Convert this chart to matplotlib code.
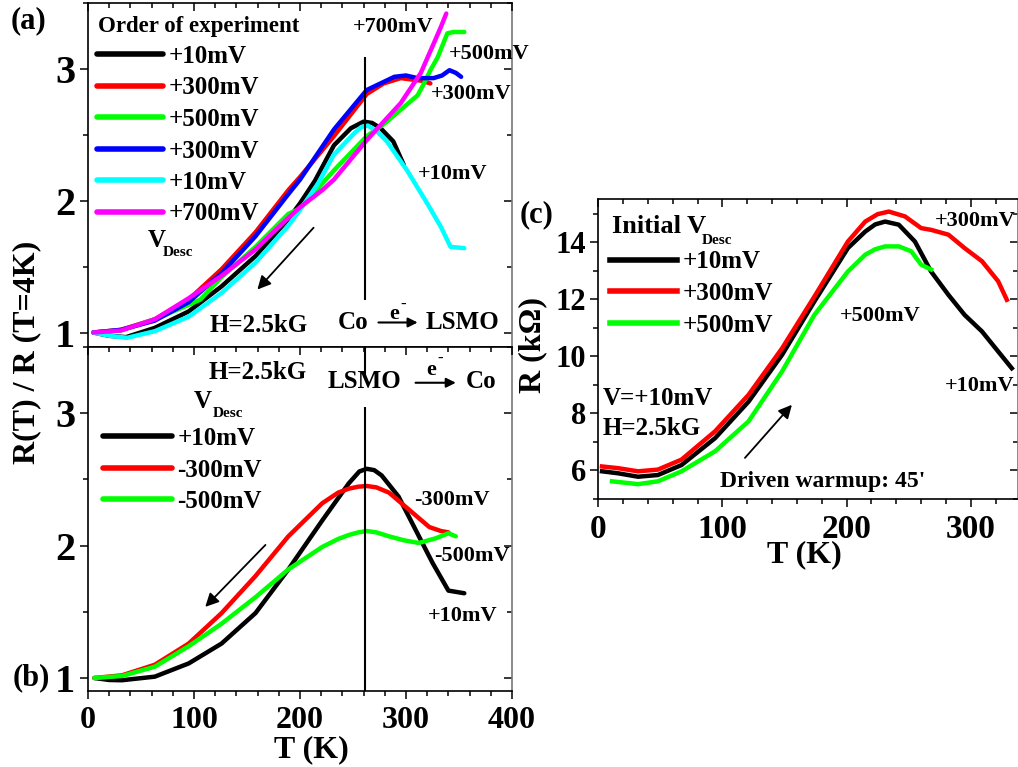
import matplotlib
matplotlib.use("Agg")
import matplotlib.pyplot as plt
from matplotlib.ticker import MultipleLocator, NullFormatter

plt.rcParams['font.family'] = ['Liberation Serif', 'DejaVu Serif']
plt.rcParams['font.weight'] = 'bold'
plt.rcParams['axes.linewidth'] = 1.2

# ---- panel (a): R(T)/R(4K), order of experiment ----
a_labels = ['+10mV', '+300mV', '+500mV', '+300mV', '+10mV', '+700mV']
a_colors = ['black', '#ff0000', '#00ff00', '#0000ff', '#00ffff', '#ff00ff']
a_T = [
    [5, 20, 36, 63, 95, 126, 158, 189, 200, 214, 232, 248, 260, 268, 276, 288, 298],
    [5, 31, 63, 95, 126, 158, 189, 200, 232, 263, 279, 295, 305, 315, 323],
    [5, 31, 63, 95, 106, 126, 158, 189, 200, 232, 263, 279, 295, 311, 317, 323, 330, 339, 345, 355],
    [5, 31, 63, 95, 126, 158, 189, 200, 232, 263, 289, 300, 311, 326, 334, 341, 347, 352],
    [5, 20, 37, 63, 95, 126, 158, 189, 200, 217, 232, 251, 258, 264, 272, 282, 301, 320, 333, 342, 355],
    [5, 31, 63, 95, 126, 158, 189, 200, 221, 232, 263, 295, 314, 326, 333, 338],
]
a_R = [
    [1.0, 0.975, 0.965, 1.035, 1.16, 1.35, 1.58, 1.86, 1.98, 2.15, 2.42, 2.55, 2.60, 2.59, 2.55, 2.45, 2.27],
    [1.0, 1.02, 1.10, 1.25, 1.48, 1.76, 2.08, 2.18, 2.49, 2.81, 2.89, 2.93, 2.92, 2.91, 2.89],
    [1.0, 1.015, 1.10, 1.21, 1.25, 1.42, 1.65, 1.90, 1.94, 2.23, 2.49, 2.58, 2.69, 2.80, 2.89, 2.99, 3.09, 3.27, 3.28, 3.28],
    [1.0, 1.02, 1.09, 1.23, 1.45, 1.73, 2.05, 2.16, 2.54, 2.84, 2.94, 2.95, 2.93, 2.93, 2.95, 2.99, 2.97, 2.94],
    [1.0, 0.975, 0.96, 1.01, 1.12, 1.30, 1.53, 1.81, 1.93, 2.13, 2.35, 2.51, 2.56, 2.57, 2.53, 2.45, 2.23, 1.98, 1.80, 1.65, 1.64],
    [1.0, 1.015, 1.10, 1.26, 1.43, 1.63, 1.87, 1.95, 2.08, 2.16, 2.46, 2.74, 2.97, 3.19, 3.32, 3.42],
]

# ---- panel (b): negative bias ----
b_labels = ['+10mV', '-300mV', '-500mV']
b_colors = ['black', '#ff0000', '#00ff00']
b_T = [
    [6, 20, 32, 63, 95, 126, 158, 189, 221, 246, 256, 263, 270, 277, 293, 309, 325, 340, 355],
    [6, 32, 63, 95, 126, 158, 189, 221, 236, 246, 255, 263, 272, 284, 303, 322, 333, 340],
    [6, 32, 63, 95, 126, 158, 189, 221, 236, 246, 255, 263, 272, 284, 298, 312, 328, 340, 347],
]
b_R = [
    [1.0, 0.985, 0.983, 1.01, 1.11, 1.26, 1.49, 1.82, 2.19, 2.47, 2.56, 2.58, 2.57, 2.53, 2.37, 2.12, 1.87, 1.66, 1.64],
    [1.0, 1.02, 1.10, 1.26, 1.49, 1.77, 2.07, 2.32, 2.40, 2.43, 2.445, 2.45, 2.44, 2.40, 2.27, 2.14, 2.11, 2.10],
    [1.0, 1.015, 1.085, 1.24, 1.41, 1.61, 1.82, 1.99, 2.05, 2.08, 2.10, 2.11, 2.10, 2.07, 2.04, 2.02, 2.055, 2.093, 2.07],
]

# ---- panel (c): R in kOhm, driven warmup ----
c_labels = ['+10mV', '+300mV', '+500mV']
c_colors = ['black', '#ff0000', '#00ff00']
c_T = [
    [3, 16, 32, 48, 67, 94, 121, 148, 174, 201, 215, 223, 231, 242, 255, 268, 282, 295, 309, 322, 333],
    [3, 16, 32, 48, 67, 94, 121, 148, 174, 201, 215, 225, 234, 247, 260, 268, 282, 295, 309, 322, 329],
    [11, 32, 48, 67, 94, 121, 148, 174, 201, 215, 223, 231, 242, 252, 260, 268],
]
c_R = [
    [5.97, 5.90, 5.78, 5.84, 6.19, 7.13, 8.41, 10.05, 11.92, 13.79, 14.37, 14.62, 14.72, 14.61, 14.02, 12.97, 12.15, 11.45, 10.87, 10.17, 9.58],
    [6.14, 6.08, 5.97, 6.03, 6.38, 7.37, 8.65, 10.28, 12.09, 14.02, 14.72, 14.98, 15.07, 14.90, 14.49, 14.43, 14.26, 13.79, 13.33, 12.63, 11.98],
    [5.62, 5.52, 5.62, 5.97, 6.67, 7.72, 9.47, 11.45, 12.97, 13.56, 13.75, 13.85, 13.85, 13.68, 13.21, 13.04],
]

T_line = 261  # vertical marker
vline_a = (1.25, 3.09)
vline_b = [(0.9, 3.05), (3.275, 3.5)]


def style_axes(ax, ymajor, yminor, ylabels_size, xlabels_size, show_x=True):
    ax.xaxis.set_major_locator(MultipleLocator(100))
    ax.xaxis.set_minor_locator(MultipleLocator(20))
    ax.yaxis.set_major_locator(MultipleLocator(ymajor))
    ax.yaxis.set_minor_locator(MultipleLocator(yminor))
    ax.tick_params(axis='both', which='both', direction='out', top=False, right=False, width=1.1)
    ax.tick_params(axis='both', which='major', length=6)
    ax.tick_params(axis='both', which='minor', length=3.5)
    ax.tick_params(axis='y', labelsize=ylabels_size, pad=3)
    ax.tick_params(axis='x', labelsize=xlabels_size, pad=5, labelbottom=show_x)
    ax.spines['right'].set_visible(False)
    ax.spines['top'].set_visible(False)
    # mirrored ticks pointing inward
    sy = ax.secondary_yaxis('right')
    sy.yaxis.set_major_locator(MultipleLocator(ymajor))
    sy.yaxis.set_minor_locator(MultipleLocator(yminor))
    sy.yaxis.set_major_formatter(NullFormatter())
    sy.tick_params(axis='y', which='both', direction='in', width=1.1)
    sy.tick_params(axis='y', which='major', length=6)
    sy.tick_params(axis='y', which='minor', length=3.5)
    sy.spines['right'].set_color('#777777')
    sx = ax.secondary_xaxis('top')
    sx.xaxis.set_major_locator(MultipleLocator(100))
    sx.xaxis.set_minor_locator(MultipleLocator(20))
    sx.xaxis.set_major_formatter(NullFormatter())
    sx.tick_params(axis='x', which='both', direction='in', width=1.1)
    sx.tick_params(axis='x', which='major', length=6)
    sx.tick_params(axis='x', which='minor', length=3.5)


def arrow(ax, tail, head, lw=1.3, ms=20):
    ax.annotate('', xy=head, xytext=tail,
                arrowprops=dict(arrowstyle='-|>', color='black', lw=lw,
                                mutation_scale=ms, shrinkA=0, shrinkB=0))


def legend(ax, handles, top, left, hlen):
    leg = ax.legend(handles=handles, loc='upper left', bbox_to_anchor=(left, top),
                    frameon=False, fontsize=18, handlelength=hlen, handletextpad=0.22,
                    labelspacing=0.34, borderpad=0, borderaxespad=0)
    for l in leg.get_lines():
        l.set_linewidth(4)
    return leg


W, H = 1018, 767
fig = plt.figure(figsize=(W / 100, H / 100), dpi=100, facecolor='white')

ax_a = fig.add_axes([88 / W, 1 - 347 / H, 424 / W, 344 / H])
ax_b = fig.add_axes([88 / W, 1 - 690.7 / H, 424 / W, 343.7 / H])
ax_c = fig.add_axes([598.3 / W, 1 - 499 / H, 419.7 / W, 299.7 / H])

# panel (a)
lines_a = []
for T, R, col, lab in zip(a_T, a_R, a_colors, a_labels):
    ln, = ax_a.plot(T, R, color=col, lw=3.2, label=lab, solid_capstyle='round')
    lines_a.append(ln)
ax_a.vlines(T_line, *vline_a, color='black', lw=1.5)
ax_a.set_xlim(0, 400)
ax_a.set_ylim(0.89, 3.5)
style_axes(ax_a, 1, 0.5, 29, 23, show_x=False)
legend(ax_a, lines_a, (347 - 45) / 344, 0.021, 2.64)
ax_a.text(9.5, 3.325, 'Order of experiment', fontsize=16.5, ha='left', va='center')

ax_a.text(287.5, 3.32, '+700mV', fontsize=16, ha='center', va='center')
ax_a.text(340.4, 3.11, '+500mV', fontsize=16, ha='left', va='center', clip_on=False)
ax_a.text(323.4, 2.81, '+300mV', fontsize=16, ha='left', va='center')
ax_a.text(311, 2.20, '+10mV', fontsize=16, ha='left', va='center')
ax_a.text(56, 1.70, 'V', fontsize=18, ha='left', va='center')
ax_a.text(71, 1.61, 'Desc', fontsize=11, ha='left', va='center')
arrow(ax_a, (212.8, 1.795), (159.8, 1.326))
ax_a.text(160.8, 1.05, 'H=2.5kG', fontsize=18, ha='center', va='center')
ax_a.text(249.6, 1.076, 'Co', fontsize=18, ha='center', va='center')
arrow(ax_a, (274, 1.076), (311, 1.076), lw=1.5, ms=14)
ax_a.text(289, 1.144, 'e', fontsize=16, ha='center', va='center')
ax_a.text(297.5, 1.21, '-', fontsize=12, ha='center', va='center')
ax_a.text(318.7, 1.076, 'LSMO', fontsize=18, ha='left', va='center')

# panel (b)
lines_b = []
for T, R, col, lab in zip(b_T, b_R, b_colors, b_labels):
    ln, = ax_b.plot(T, R, color=col, lw=3.2, label=lab, solid_capstyle='round')
    lines_b.append(ln)
for lo, hi in vline_b:
    ax_b.vlines(T_line, lo, hi, color='black', lw=1.5)
ax_b.set_xlim(0, 400)
ax_b.set_ylim(0.904, 3.5)
style_axes(ax_b, 1, 0.5, 29, 23, show_x=True)
legend(ax_b, lines_b, (690.7 - 427) / 343.7, 0.035, 2.76)

ax_b.text(159.8, 3.31, 'H=2.5kG', fontsize=18, ha='center', va='center')
ax_b.text(261, 3.24, 'LSMO', fontsize=18, ha='center', va='center')
arrow(ax_b, (309, 3.23), (347, 3.23), lw=1.5, ms=14)
ax_b.text(324, 3.33, 'e', fontsize=16, ha='center', va='center')
ax_b.text(332, 3.41, '-', fontsize=12, ha='center', va='center')
ax_b.text(356.5, 3.24, 'Co', fontsize=18, ha='left', va='center')
ax_b.text(108.7, 3.09, 'V', fontsize=18, ha='center', va='center')
ax_b.text(118, 2.995, 'Desc', fontsize=11, ha='left', va='center')
arrow(ax_b, (167.4, 2.005), (110.6, 1.537))
ax_b.text(307.3, 2.345, '-300mV', fontsize=16, ha='left', va='center')
ax_b.text(326.2, 1.92, '-500mV', fontsize=16, ha='left', va='center')
ax_b.text(320.6, 1.47, '+10mV', fontsize=16, ha='left', va='center')

# panel (c)
lines_c = []
for T, R, col, lab in zip(c_T, c_R, c_colors, c_labels):
    ln, = ax_c.plot(T, R, color=col, lw=3.2, label=lab)
    lines_c.append(ln)
ax_c.set_xlim(0, 338)
ax_c.set_ylim(5, 15.5)
style_axes(ax_c, 2, 1, 22, 24, show_x=True)
legend(ax_c, lines_c, (499 - 250.5) / 299.7, 0.028, 2.68)

ax_c.text(11, 14.56, 'Initial V', fontsize=19, ha='left', va='center')
ax_c.text(83.4, 14.07, 'Desc', fontsize=11, ha='left', va='center')
ax_c.text(271, 14.75, '+300mV', fontsize=16, ha='left', va='center')
ax_c.text(194.6, 11.42, '+500mV', fontsize=16, ha='left', va='center')
ax_c.text(279, 8.97, '+10mV', fontsize=16, ha='left', va='center')
ax_c.text(3.8, 8.51, 'V=+10mV', fontsize=18, ha='left', va='center')
ax_c.text(3.8, 7.46, 'H=2.5kG', fontsize=18, ha='left', va='center')
arrow(ax_c, (118.1, 6.44), (155.9, 8.30))
ax_c.text(97.9, 5.60, "Driven warmup: 45'", fontsize=17, ha='left', va='center')

# labels
fig.text(28 / W, 1 - 21 / H, '(a)', fontsize=22, ha='center', va='center')
fig.text(31 / W, 1 - 678 / H, '(b)', fontsize=22, ha='center', va='center')
fig.text(537 / W, 1 - 215 / H, '(c)', fontsize=22, ha='center', va='center')
fig.text(27 / W, 1 - 352 / H, 'R(T) / R (T=4K)', fontsize=23, rotation=90,
         ha='center', va='center')
fig.text(311.7 / W, 1 - 749.5 / H, 'T (K)', fontsize=23, ha='center', va='center')
fig.text(804 / W, 1 - 555 / H, 'T (K)', fontsize=23, ha='center', va='center')
fig.text(533 / W, 1 - 345 / H, 'R (k\u03a9)', fontsize=23, rotation=90,
         ha='center', va='center')

fig.savefig('out.png', dpi=100, facecolor='white')
